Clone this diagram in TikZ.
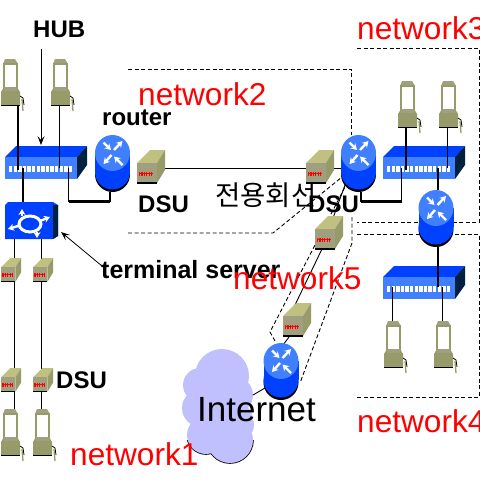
\documentclass[tikz,border=0pt]{standalone}
\usepackage{fontspec}
\setmainfont{Liberation Sans}
\newfontfamily\krfont{Noto Sans CJK KR}
\usetikzlibrary{arrows.meta}
\definecolor{bluedark}{RGB}{0,64,255}
\definecolor{bluelight}{RGB}{64,128,255}
\definecolor{navy}{RGB}{0,32,64}
\definecolor{tantop}{RGB}{192,192,128}
\definecolor{tanfront}{RGB}{160,160,128}
\definecolor{olive}{RGB}{150,155,105}
\definecolor{cloudc}{RGB}{192,192,255}
\definecolor{netred}{RGB}{255,0,0}
\tikzset{
 x=1pt,y=-1pt,
 thinln/.style={line width=1.2pt,black},
 thickln/.style={line width=3pt,black},
 dashbox/.style={line width=0.9pt,dash pattern=on 4pt off 2.5pt,black},
 thinarrow/.style={line width=0.8pt,-{Stealth[length=9pt,width=7pt,inset=4pt]}},
 rednet/.style={text=netred,font=\fontsize{31.6}{32}\selectfont,anchor=base west,inner sep=0pt},
 blacklbl/.style={text=black,font=\fontsize{24}{24}\selectfont\bfseries,anchor=base west,inner sep=0pt},
 rarrow/.style={white,line width=2.4pt,-{Stealth[length=6pt,width=7pt]}},
 pics/router/.style={code={
  \fill[black] (0,39.5) ellipse[x radius=17.5,y radius=17.5];
  \fill[bluedark] (-17.5,18) rectangle (17.5,37);
  \fill[bluedark] (0,37) ellipse[x radius=17.5,y radius=17.5];
  \fill[bluelight] (0,18) ellipse[x radius=17.5,y radius=18];
  \draw[rarrow] (-9,7.5) -- (-1.5,15);
  \draw[rarrow] (1.5,15) -- (10,6);
  \draw[rarrow] (-1,20) -- (-9,29);
  \draw[rarrow] (10,30) -- (1.5,21.5);
 }},
 pics/hubbox/.style={code={
  \fill[bluedark] (0,11) -- (11,0) -- (82,0) -- (72,11) -- cycle;
  \fill[navy] (72,11) -- (82,0) -- (82,19) -- (72,33) -- cycle;
  \fill[bluelight] (0,11) rectangle (72,33);
  \foreach \i in {0,...,13} {\fill[white] ({4+\i*4.6},20) rectangle ({7.4+\i*4.6},26);}
 }},
 pics/dsubox/.style={code={
  \fill[black] (0,31) rectangle (20,34);
  \fill[tantop] (0,13) -- (13,0) -- (28,0) -- (20,13) -- cycle;
  \fill[olive] (20,13) -- (28,0) -- (28,20) -- (20,33) -- cycle;
  \fill[tanfront] (0,13) rectangle (20,32);
  \draw[netred,line width=4pt,dash pattern=on 1.2pt off 1.2pt] (2,23.5) -- (16,23.5);
  \draw[netred,line width=1pt] (2,23.5) -- (16,23.5);
 }},
 pics/wstation/.style={code={
  \fill[tanfront] (4,0) -- (14,0) -- (17,5) -- (2,5) -- cycle;
  \fill[white] (3.5,5) rectangle (15.5,29);
  \draw[olive,line width=1.1pt] (3,5) rectangle (16,29);
  \fill[olive] (0,33) -- (3,28) -- (16,28) -- (19,33) -- (19,46) -- (0,46) -- cycle;
  \fill[tanfront] (3,28) rectangle (16,32);
  \draw[black,line width=1pt] (0,46) -- (19,46);
  \draw[black,line width=0.8pt] (19,37) -- (22,39) -- (23,46);
  \draw[olive,line width=1.3pt] (21,40) -- (22,52);
 }}
}
\begin{document}
\begin{tikzpicture}
\useasboundingbox (0,0) rectangle (480,480);
\clip (0,0) rectangle (480,480);
% connector end points
\coordinate (wsA) at (18,105); \coordinate (wsB) at (59.5,105);
\coordinate (wsC) at (406,127); \coordinate (wsD) at (447.5,127);
\coordinate (wsE) at (392.5,321); \coordinate (wsF) at (442.5,321);
\coordinate (wsG) at (14.5,409); \coordinate (wsH) at (41.5,409);
\coordinate (hubApA) at (18,170); \coordinate (hubApB) at (59.5,168);
\coordinate (hubApC) at (23,168); \coordinate (hubApD) at (68.5,168);
\coordinate (tsT) at (23,202); \coordinate (tsA) at (14.5,239); \coordinate (tsB) at (41.5,239);
\coordinate (cornerA) at (68.5,201.5); \coordinate (rtA) at (110,192); \coordinate (cornerAb) at (110,201.5);
\coordinate (dsuAr) at (160,168.5); \coordinate (rtB) at (345,168.5);
\coordinate (rtBb) at (361,192); \coordinate (cornerB) at (361,201.5); \coordinate (cornerC) at (401.5,201.5);
\coordinate (hubBp) at (401.5,168);
\coordinate (hubBa) at (406,170); \coordinate (hubBb) at (447.5,168); \coordinate (hubBc) at (438,168);
\coordinate (rtC) at (438,190); \coordinate (rtCb) at (438,247); \coordinate (hubCc) at (438,287);
\coordinate (hubCa) at (392.5,287); \coordinate (hubCb) at (442.5,287);
\coordinate (rtBl) at (345,185); \coordinate (dsuCt) at (333,218); \coordinate (dsuCb) at (322,249);
\coordinate (dsuDt) at (295,305); \coordinate (dsuDb) at (289,337); \coordinate (rtDt) at (283,345);
\coordinate (cloudE) at (253,395); \coordinate (rtDl) at (265,388);
\coordinate (hubTail) at (41,49); \coordinate (hubHead) at (41,145);
\coordinate (tsTail) at (102,266); \coordinate (tsHead) at (61,232);
% dashed zones
\draw[dashbox] (128,69) -- (351.5,69) -- (351.5,135);
\draw[dashbox] (128,233) -- (273,233) -- (342,177);
\draw[dashbox] (357,48) -- (479,48) -- (479,222) -- (357,222);
\draw[dashbox] (357,234) -- (479,234) -- (479,397) -- (356,397);
\draw[dashbox] (352,217) -- (352,243) -- (300,383);
\draw[dashbox] (275,341) -- (270,332) -- (345,187);
% cloud
\begin{scope}
 \clip (150,440) rectangle (280,470);
 \foreach \cx/\cy/\r in {206/435/19,230/440/23,240/425/14} {\fill[black] (\cx,\cy) circle[radius=\r+0.8];}
\end{scope}
\fill[cloudc] (222,376) circle[radius=27] (200,385) circle[radius=17] (201,408) circle[radius=19]
 (206,435) circle[radius=19] (230,440) circle[radius=23] (235,395) circle[radius=18] (235,420) circle[radius=18] (240,425) circle[radius=14];
% hubs
\pic (hubA) at (5,146) {hubbox};
\pic (hubB) at (383,146) {hubbox};
\pic (hubC) at (383,266) {hubbox};
% terminal server
\fill[bluedark] (5,205) -- (8,202) -- (53,202) -- (58,205) -- (58,236) -- (53,239) -- (5,239) -- cycle;
\fill[navy] (53,205) -- (58,205) -- (58,236) -- (53,239) -- cycle;
\draw[white,line width=3pt] (30,224) ellipse[x radius=11,y radius=8];
\draw[rarrow] (18,226) -- (8,229);
\draw[rarrow] (40,221) -- (50,217);
\draw[rarrow] (22,216) -- (22,209);
\draw[rarrow] (37,232) -- (37,238);
% links
\draw[thinln] (wsA) -- (hubApA);
\draw[thinln] (wsB) -- (hubApB);
\draw[line width=2.5pt] (hubApC) -- (tsT);
\draw[thinln] (hubApD) -- (cornerA);
\draw[thickln] (cornerA) -- (cornerAb);
\draw[thinln] (cornerAb) -- (rtA);
\draw[thinln] (dsuAr) -- (rtB);
\draw[thickln] (cornerB) -- (cornerC);
\draw[thinln] (rtBb) -- (cornerB);
\draw[thinln] (cornerC) -- (hubBp);
\draw[line width=2pt] (wsC) -- (hubBa);
\draw[thinln] (wsD) -- (hubBb);
\draw[line width=2pt] (hubBc) -- (rtC);
\draw[line width=2pt] (rtCb) -- (hubCc);
\draw[thinln] (hubCa) -- (wsE);
\draw[thinln] (hubCb) -- (wsF);
\draw[thinln] (tsA) -- (wsG);
\draw[thinln] (tsB) -- (wsH);
\draw[line width=0.9pt] (rtBl) -- (dsuCt);
\draw[line width=0.9pt] (dsuCb) -- (dsuDt);
\draw[line width=0.9pt] (dsuDb) -- (rtDt);
\draw[line width=0.9pt] (cloudE) -- (rtDl);
% devices
\pic (rA) at (112.5,135) {router};
\pic (rB) at (358.5,135) {router};
\pic (rC) at (436,190) {router};
\pic (rD) at (281,343) {router};
\pic (dA) at (137,150) {dsubox};
\pic (dB) at (306,150) {dsubox};
\pic (dC) at (315,216) {dsubox};
\pic (dD) at (283,303) {dsubox};
\pic[scale=0.72] (dE) at (1,258) {dsubox};
\pic[scale=0.72] (dF) at (33,258) {dsubox};
\pic[scale=0.72] (dG) at (1,368) {dsubox};
\pic[scale=0.72] (dH) at (33,368) {dsubox};
\pic (wA) at (1,59) {wstation};
\pic (wB) at (51,59) {wstation};
\pic (wC) at (398,81) {wstation};
\pic (wD) at (439,81) {wstation};
\pic (wE) at (384,321) {wstation};
\pic (wF) at (434,321) {wstation};
\pic (wG) at (1,409) {wstation};
\pic (wH) at (33,409) {wstation};
% pointers
\draw[thinarrow] (hubTail) -- (hubHead);
\draw[thinarrow] (tsTail) -- (tsHead);
% texts
\node[anchor=base west,inner sep=0pt,font=\fontsize{27.5}{28}\krfont] (tLine) at (215,205) {전용회선};
\node[blacklbl] (tHub) at (33,37) {HUB};
\node[blacklbl] (tRouter) at (102,125) {router};
\node[blacklbl] (tDsuA) at (138,212) {DSU};
\node[blacklbl] (tDsuB) at (308,212) {DSU};
\node[blacklbl] (tDsuC) at (56,388) {DSU};
\node[blacklbl,font=\fontsize{25}{25}\selectfont\bfseries] (tTerm) at (101,278) {terminal server};
\node[anchor=base west,inner sep=0pt,font=\fontsize{35}{35}\selectfont] (tNet) at (197,421) {Internet};
\node[rednet] (nA) at (70,465) {network1};
\node[rednet] (nB) at (138,105) {network2};
\node[rednet] (nC) at (357,39) {network3};
\node[rednet] (nD) at (357,432) {network4};
\node[rednet] (nE) at (233,289) {network5};
\end{tikzpicture}
\end{document}
